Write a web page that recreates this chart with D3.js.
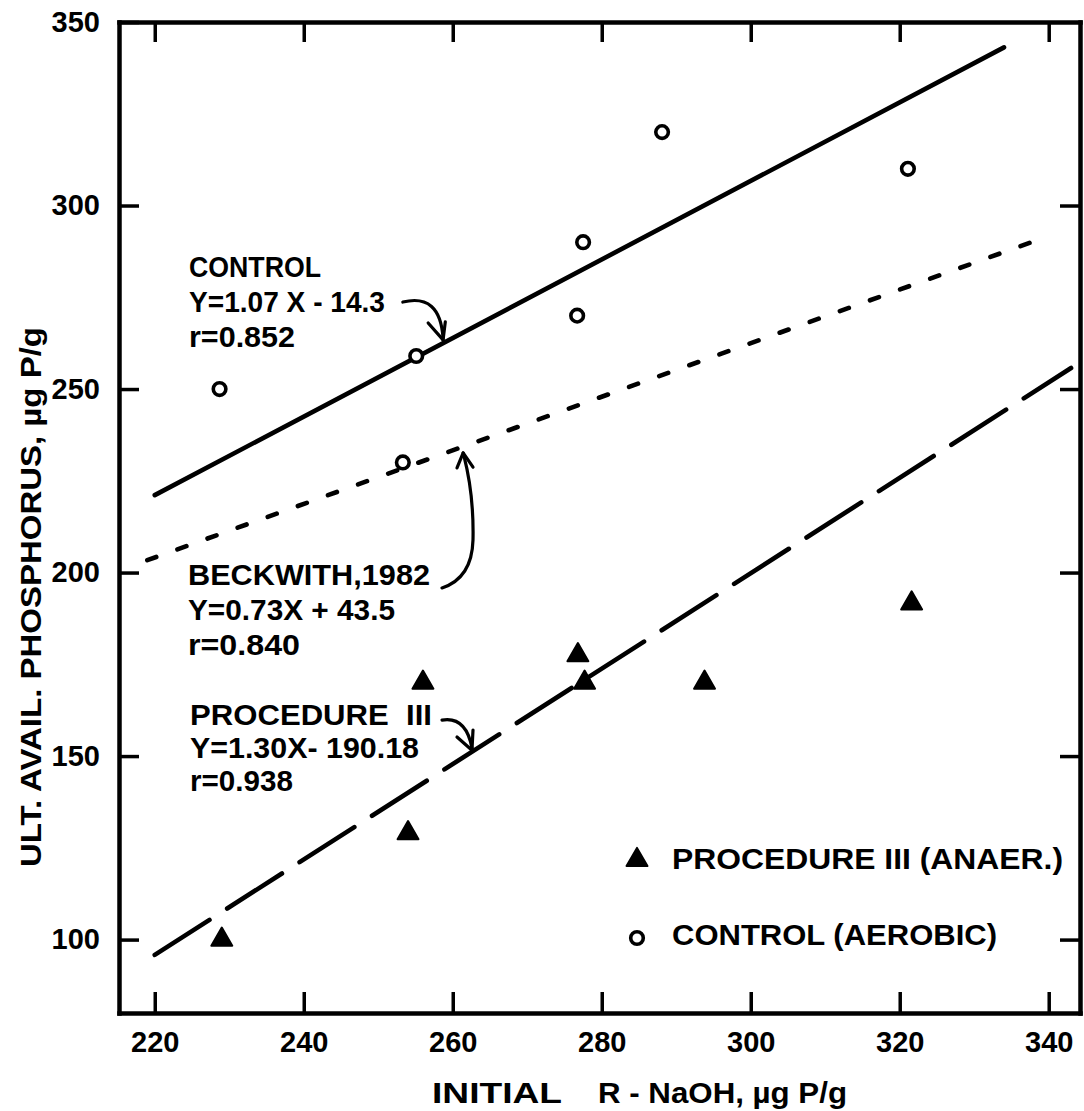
<!DOCTYPE html>
<html>
<head>
<meta charset="utf-8">
<script src="https://cdn.jsdelivr.net/npm/d3@7"></script>
<style>
  html, body { margin: 0; padding: 0; background: #fff; }
  svg { display: block; }
</style>
</head>
<body>
<script>
// Axis ticks
const xTicks = [220, 240, 260, 280, 300, 320, 340];
const yTicks = [100, 150, 200, 250, 300, 350];

// Control (aerobic) samples: initial R-NaOH vs ultimate available P
const controlX = [228.7, 253.3, 255.1, 276.7, 277.5, 288.1, 321.1];
const controlY = [250, 230, 259, 270, 290, 320, 310];

// Procedure III (anaerobic) samples
const procX = [229.0, 254.0, 256.0, 276.8, 277.7, 293.8, 321.6];
const procY = [100, 129, 170, 177.5, 170, 170, 191.6];

// Regression lines: Y = slope * X + intercept
const fitNames = ["CONTROL", "BECKWITH,1982", "PROCEDURE  III"];
const fitSlope = [1.07, 0.73, 1.30];
const fitIntercept = [-14.3, 43.5, -190.18];
const fitFrom = [220, 219, 220];
const fitTo = [334, 340, 343];
const fitEquation = ["Y=1.07 X - 14.3", "Y=0.73X + 43.5", "Y=1.30X- 190.18"];
const fitR = ["r=0.852", "r=0.840", "r=0.938"];

// Legend
const legendLabels = ["PROCEDURE III (ANAER.)", "CONTROL (AEROBIC)"];

const W = 1084, H = 1111;
const plot = { left: 119, right: 1080, top: 22, bottom: 1013 };
const FONT = "'Liberation Sans', 'DejaVu Sans', sans-serif";

const svg = d3.select("body").append("svg")
  .attr("width", W).attr("height", H)
  .style("font-family", FONT)
  .style("font-weight", "bold");

svg.append("rect").attr("width", W).attr("height", H).attr("fill", "#fff");

const x = d3.scaleLinear().domain([215.2, 344.2]).range([plot.left, plot.right]);
const y = d3.scaleLinear().domain([80, 350]).range([plot.bottom, plot.top]);

function styleAxis(g, labelled) {
  g.attr("font-family", FONT).attr("font-size", 29).attr("font-weight", "bold");
  g.select(".domain").attr("stroke", "#000").attr("stroke-width", 4.5)
    .attr("stroke-linecap", "square");
  g.selectAll(".tick line").attr("stroke", "#000").attr("stroke-width", 3.5);
  g.selectAll(".tick text").attr("fill", "#000");
  if (!labelled) g.selectAll(".tick text").remove();
}

// Bottom axis with labels, ticks pointing inward
svg.append("g").attr("transform", `translate(0,${plot.bottom})`)
  .call(d3.axisBottom(x).tickValues(xTicks).tickSizeInner(-21).tickSizeOuter(0)
    .tickPadding(18).tickFormat(d3.format("d")))
  .call(g => styleAxis(g, true));

// Top axis, ticks only
svg.append("g").attr("transform", `translate(0,${plot.top})`)
  .call(d3.axisTop(x).tickValues(xTicks).tickSizeInner(-20).tickSizeOuter(0))
  .call(g => styleAxis(g, false));

// Left axis with labels
svg.append("g").attr("transform", `translate(${plot.left},0)`)
  .call(d3.axisLeft(y).tickValues(yTicks).tickSizeInner(-20).tickSizeOuter(0)
    .tickPadding(19).tickFormat(d3.format("d")))
  .call(g => styleAxis(g, true));

// Right axis, ticks only
svg.append("g").attr("transform", `translate(${plot.right},0)`)
  .call(d3.axisRight(y).tickValues(yTicks.filter(v => v < 350)).tickSizeInner(-20).tickSizeOuter(0))
  .call(g => styleAxis(g, false));

// Axis titles
svg.append("text")
  .attr("x", 432).attr("y", 1103)
  .attr("font-size", 29).attr("textLength", 130).attr("lengthAdjust", "spacingAndGlyphs")
  .text("INITIAL");
svg.append("text")
  .attr("x", 598).attr("y", 1103)
  .attr("font-size", 29).attr("textLength", 249).attr("lengthAdjust", "spacingAndGlyphs")
  .text("R - NaOH, µg P/g");

svg.append("text")
  .attr("transform", "translate(41,597) rotate(-90)")
  .attr("text-anchor", "middle")
  .attr("font-size", 29).attr("textLength", 540).attr("lengthAdjust", "spacingAndGlyphs")
  .text("ULT. AVAIL. PHOSPHORUS, µg P/g");

// Regression lines
const dashes = [null, "9.5,22.5", "65,21"];
fitSlope.forEach((m, i) => {
  const b = fitIntercept[i];
  svg.append("line")
    .attr("x1", x(fitFrom[i])).attr("y1", y(m * fitFrom[i] + b))
    .attr("x2", x(fitTo[i])).attr("y2", y(m * fitTo[i] + b))
    .attr("stroke", "#000").attr("stroke-width", 4.6)
    .attr("stroke-linecap", "round")
    .attr("stroke-dasharray", dashes[i]);
});

// Annotation blocks: name, equation, correlation
const blocks = [
  { x: 189, y: 277, w: [132, 196, 106] },
  { x: 188, y: 585, w: [242, 207, 112] },
  { x: 190, y: 725, w: [242, 229, 103] }
];
const lineGap = [35, 35, 33];
blocks.forEach((bk, i) => {
  const lines = [fitNames[i], fitEquation[i], fitR[i]];
  lines.forEach((t, j) => {
    svg.append("text")
      .attr("x", bk.x).attr("y", bk.y + j * lineGap[i])
      .attr("font-size", 29)
      .attr("textLength", bk.w[j]).attr("lengthAdjust", "spacingAndGlyphs")
      .style("white-space", "pre")
      .text(t);
  });
});

// Curved pointer arrows (data coordinates)
const arrows = [
  { path: [[253.3, 273.7], [258.3, 276.2], [258.7, 263.9]], tip: [258.7, 263.4], arms: [[256.7, 268.0], [259.0, 268.3]] },
  { path: [[258.56, 195.8], [262.58, 198.5], [262.72, 208.9], [262.85, 221.1], [261.51, 231.7]], tip: [261.4, 232.6], arms: [[260.57, 228.5], [262.72, 228.7]] },
  { path: [[258.56, 159.8], [261.78, 160.9], [262.58, 152.2]], tip: [262.58, 151.6], arms: [[260.57, 155.2], [262.72, 157.1]] }
];
arrows.forEach(a => {
  const p = a.path.map(([u, v]) => [x(u), y(v)]);
  let d = `M${p[0][0]},${p[0][1]} Q${p[1][0]},${p[1][1]} ${p[2][0]},${p[2][1]}`;
  if (p.length === 5) d += ` Q${p[3][0]},${p[3][1]} ${p[4][0]},${p[4][1]}`;
  svg.append("path").attr("d", d)
    .attr("fill", "none").attr("stroke", "#000").attr("stroke-width", 3.2)
    .attr("stroke-linecap", "round");
  const t = [x(a.tip[0]), y(a.tip[1])];
  a.arms.forEach(([u, v]) => {
    svg.append("line")
      .attr("x1", x(u)).attr("y1", y(v)).attr("x2", t[0]).attr("y2", t[1])
      .attr("stroke", "#000").attr("stroke-width", 3.2).attr("stroke-linecap", "round");
  });
});

// Data points
const tri = d3.symbol().type(d3.symbolTriangle).size(190);
svg.append("g").selectAll("path")
  .data(d3.zip(procX, procY))
  .join("path")
  .attr("d", tri)
  .attr("transform", d => `translate(${x(d[0])},${y(d[1])})`)
  .attr("fill", "#000").attr("stroke", "#000").attr("stroke-width", 2)
  .attr("stroke-linejoin", "round");

svg.append("g").selectAll("circle")
  .data(d3.zip(controlX, controlY))
  .join("circle")
  .attr("cx", d => x(d[0])).attr("cy", d => y(d[1]))
  .attr("r", 6.3)
  .attr("fill", "#fff").attr("stroke", "#000").attr("stroke-width", 3.6);

// Legend
const legendRows = [
  { sx: 637, sy: 860, tx: 672, ty: 869, w: 391 },
  { sx: 637, sy: 938, tx: 672, ty: 945, w: 325 }
];
svg.append("path").attr("d", tri)
  .attr("transform", `translate(${legendRows[0].sx},${legendRows[0].sy})`)
  .attr("fill", "#000").attr("stroke", "#000").attr("stroke-width", 2).attr("stroke-linejoin", "round");
svg.append("circle").attr("cx", legendRows[1].sx).attr("cy", legendRows[1].sy).attr("r", 6.3)
  .attr("fill", "#fff").attr("stroke", "#000").attr("stroke-width", 3.6);
legendLabels.forEach((t, i) => {
  svg.append("text")
    .attr("x", legendRows[i].tx).attr("y", legendRows[i].ty)
    .attr("font-size", 29)
    .attr("textLength", legendRows[i].w).attr("lengthAdjust", "spacingAndGlyphs")
    .text(t);
});
</script>
</body>
</html>
